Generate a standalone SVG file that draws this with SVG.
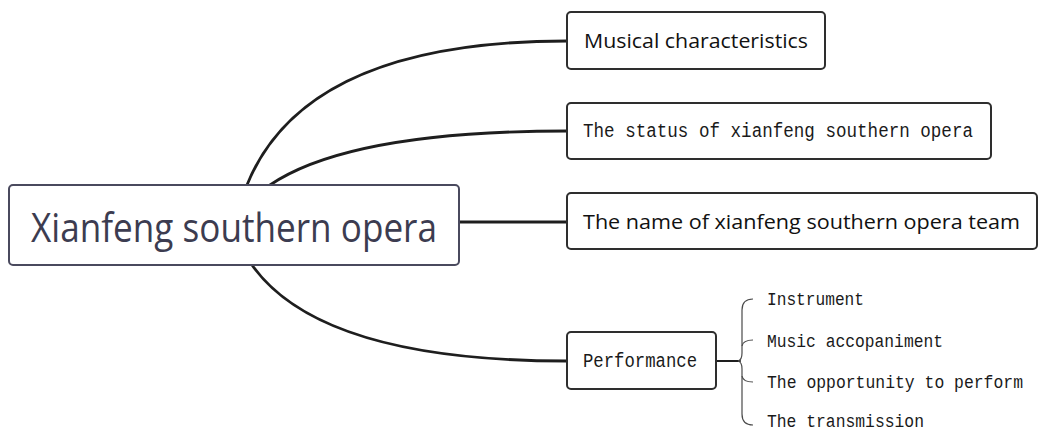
<svg xmlns="http://www.w3.org/2000/svg" width="1038" height="432" viewBox="0 0 1038 432">
<style>
.conn{fill:none;stroke:#1e1e1e;stroke-width:2.8;stroke-linecap:round}
.brace{fill:none;stroke:#4a4a4a;stroke-width:1.2}
.box{fill:#fff;stroke:#2e2e2e;stroke-width:2}
.root{fill:#fff;stroke:#4a4a5e;stroke-width:2}
.sans{font-family:"Open Sans","Noto Sans","Liberation Sans",sans-serif;fill:#111;font-variant-ligatures:none}
.mono{font-family:"Liberation Mono","DejaVu Sans Mono",monospace;fill:#1a1a1a}
</style>
<rect width="1038" height="432" fill="#fff"/>
<g id="connectors">
<path class="conn" d="M247,185 Q305,41 567,41"/>
<path class="conn" d="M270,185 Q350,131 567,131"/>
<path class="conn" d="M459,222 L567,222"/>
<path class="conn" d="M252,265 Q320,361 567,361"/>
<path class="conn" d="M716,361 L740,361" style="stroke-width:2"/>
</g>
<g id="root">
<rect class="root" x="9" y="185" width="450" height="80" rx="4"/>
<text class="sans" x="31" y="242" font-size="40" textLength="406" lengthAdjust="spacingAndGlyphs" style="fill:#3c3c50">Xianfeng southern opera</text>
</g>
<g id="n1">
<rect class="box" x="567" y="12" width="258" height="57" rx="4"/>
<text class="sans" x="584" y="48" font-size="20" textLength="224" lengthAdjust="spacingAndGlyphs">Musical characteristics</text>
</g>
<g id="n2">
<rect class="box" x="567" y="103" width="424" height="56" rx="4"/>
<text class="mono" x="583" y="137" font-size="20" textLength="390" lengthAdjust="spacingAndGlyphs">The status of xianfeng southern opera</text>
</g>
<g id="n3">
<rect class="box" x="567" y="193" width="470" height="56" rx="4"/>
<text class="sans" x="583" y="229" font-size="20" textLength="437" lengthAdjust="spacingAndGlyphs">The name of xianfeng southern opera team</text>
</g>
<g id="n4">
<rect class="box" x="567" y="332" width="149" height="57" rx="4"/>
<text class="mono" x="583" y="367" font-size="20" textLength="114" lengthAdjust="spacingAndGlyphs">Performance</text>
</g>
<g id="brace">
<path class="brace" d="M753,299 Q742,299 742,310 L742,353 Q742,360 738,361 Q742,362 742,369 L742,414 Q742,425 753,425"/>
<path class="brace" d="M742,346 Q743,340 753,340"/>
<path class="brace" d="M742,376 Q743,382 753,382"/>
</g>
<g id="sub1"><text class="mono" x="767" y="305" font-size="18.5" textLength="97" lengthAdjust="spacingAndGlyphs">Instrument</text></g>
<g id="sub2"><text class="mono" x="767" y="347" font-size="18.5" textLength="176" lengthAdjust="spacingAndGlyphs">Music accopaniment</text></g>
<g id="sub3"><text class="mono" x="767" y="388" font-size="18.5" textLength="256" lengthAdjust="spacingAndGlyphs">The opportunity to perform</text></g>
<g id="sub4"><text class="mono" x="767" y="427" font-size="18.5" textLength="157" lengthAdjust="spacingAndGlyphs">The transmission</text></g>
</svg>
